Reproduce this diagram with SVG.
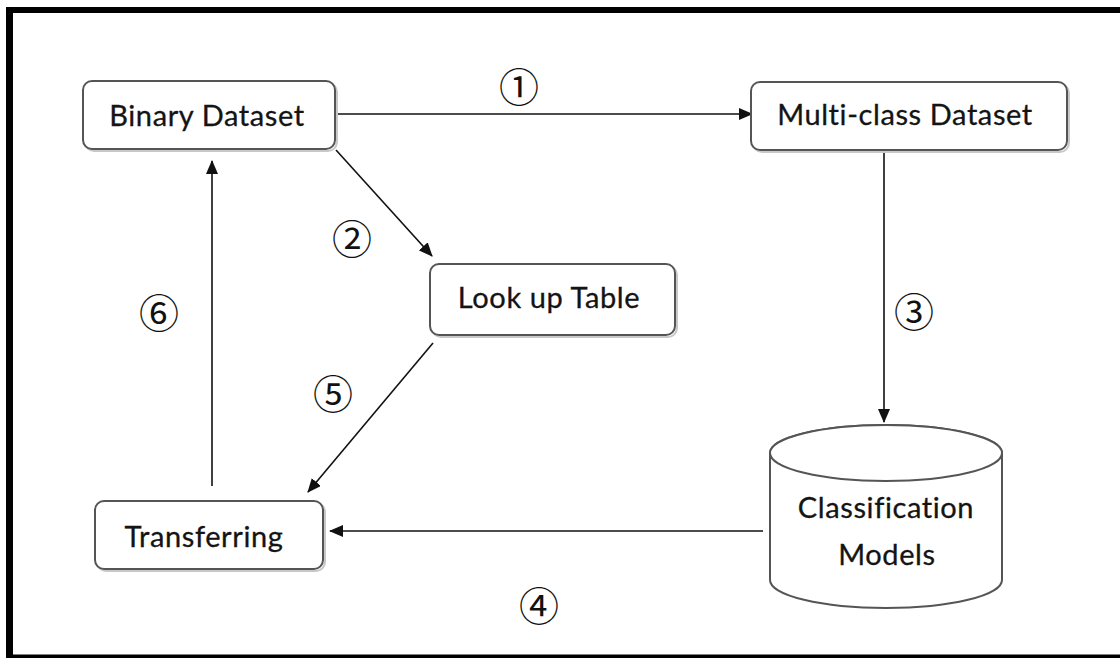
<svg xmlns="http://www.w3.org/2000/svg" width="1120" height="658" viewBox="0 0 1120 658">
  <style>
    .box { fill: #ffffff; stroke: #555555; stroke-width: 2; }
    .shadow { fill: none; stroke: #c8c8c8; stroke-width: 2; }
    .label { font-family: Lato, "Open Sans", "Liberation Sans", sans-serif; font-size: 29px; letter-spacing: 0.6px; fill: #141414; stroke: #141414; stroke-width: 0.3; text-anchor: middle; }
    .num { font-family: "Noto Sans CJK JP", "DejaVu Sans", sans-serif; font-size: 40px; fill: #111111; text-anchor: middle; }
    .conn { stroke: #111111; stroke-width: 1.6; fill: none; marker-end: url(#arrow); }
  </style>
  <defs>
    <marker id="arrow" viewBox="0 0 14 12" refX="13" refY="6" markerWidth="14" markerHeight="12" markerUnits="userSpaceOnUse" orient="auto">
      <path d="M0,0 L14,6 L0,12 Z" fill="#111111"/>
    </marker>
  </defs>

  <rect x="0" y="0" width="1120" height="658" fill="#ffffff"/>

  <!-- outer frame -->
  <g id="frame" stroke="#000000" fill="none">
    <line x1="6" y1="10" x2="1120" y2="10" stroke-width="6"/>
    <line x1="9.5" y1="7" x2="9.5" y2="658" stroke-width="7"/>
    <line x1="6" y1="656.5" x2="1120" y2="656.5" stroke-width="4"/>
  </g>

  <!-- connectors -->
  <g id="connectors">
    <line class="conn" x1="336" y1="114" x2="752" y2="114"/>
    <line class="conn" x1="336" y1="150" x2="432" y2="256"/>
    <line class="conn" x1="884" y1="151" x2="884" y2="422"/>
    <line class="conn" x1="763" y1="531" x2="330" y2="531"/>
    <line class="conn" x1="433" y1="343" x2="308" y2="492"/>
    <line class="conn" x1="212" y1="486" x2="212" y2="161"/>
  </g>

  <!-- step numbers -->
  <g id="steps">
    <text class="num" x="519" y="102">①</text>
    <text class="num" x="352" y="254">②</text>
    <text class="num" x="914" y="327">③</text>
    <text class="num" x="539" y="621">④</text>
    <text class="num" x="333" y="409">⑤</text>
    <text class="num" x="159" y="328">⑥</text>
  </g>

  <g id="binary-dataset">
    <rect class="shadow" x="85" y="83" width="252" height="68" rx="9"/>
    <rect class="box" x="83" y="81" width="252" height="68" rx="9"/>
    <text class="label" x="207" y="126">Binary Dataset</text>
  </g>

  <g id="multiclass-dataset">
    <rect class="shadow" x="753" y="84" width="316" height="68" rx="9"/>
    <rect class="box" x="751" y="82" width="316" height="68" rx="9"/>
    <text class="label" x="905" y="125">Multi-class Dataset</text>
  </g>

  <g id="lookup-table">
    <rect class="shadow" x="432" y="266" width="245" height="71" rx="9"/>
    <rect class="box" x="430" y="264" width="245" height="71" rx="9"/>
    <text class="label" x="549" y="308">Look up Table</text>
  </g>

  <g id="transferring">
    <rect class="shadow" x="97" y="503" width="228" height="68" rx="9"/>
    <rect class="box" x="95" y="501" width="228" height="68" rx="9"/>
    <text class="label" x="204" y="547">Transferring</text>
  </g>

  <g id="classification-models">
    <path class="box" d="M770,453 L770,580 A116,28 0 0 0 1002,580 L1002,453 A116,28 0 0 0 770,453 Z"/>
    <ellipse class="box" cx="886" cy="453" rx="116" ry="28"/>
    <text class="label" x="886" y="518">Classification</text>
    <text class="label" x="887" y="565">Models</text>
  </g>
</svg>
